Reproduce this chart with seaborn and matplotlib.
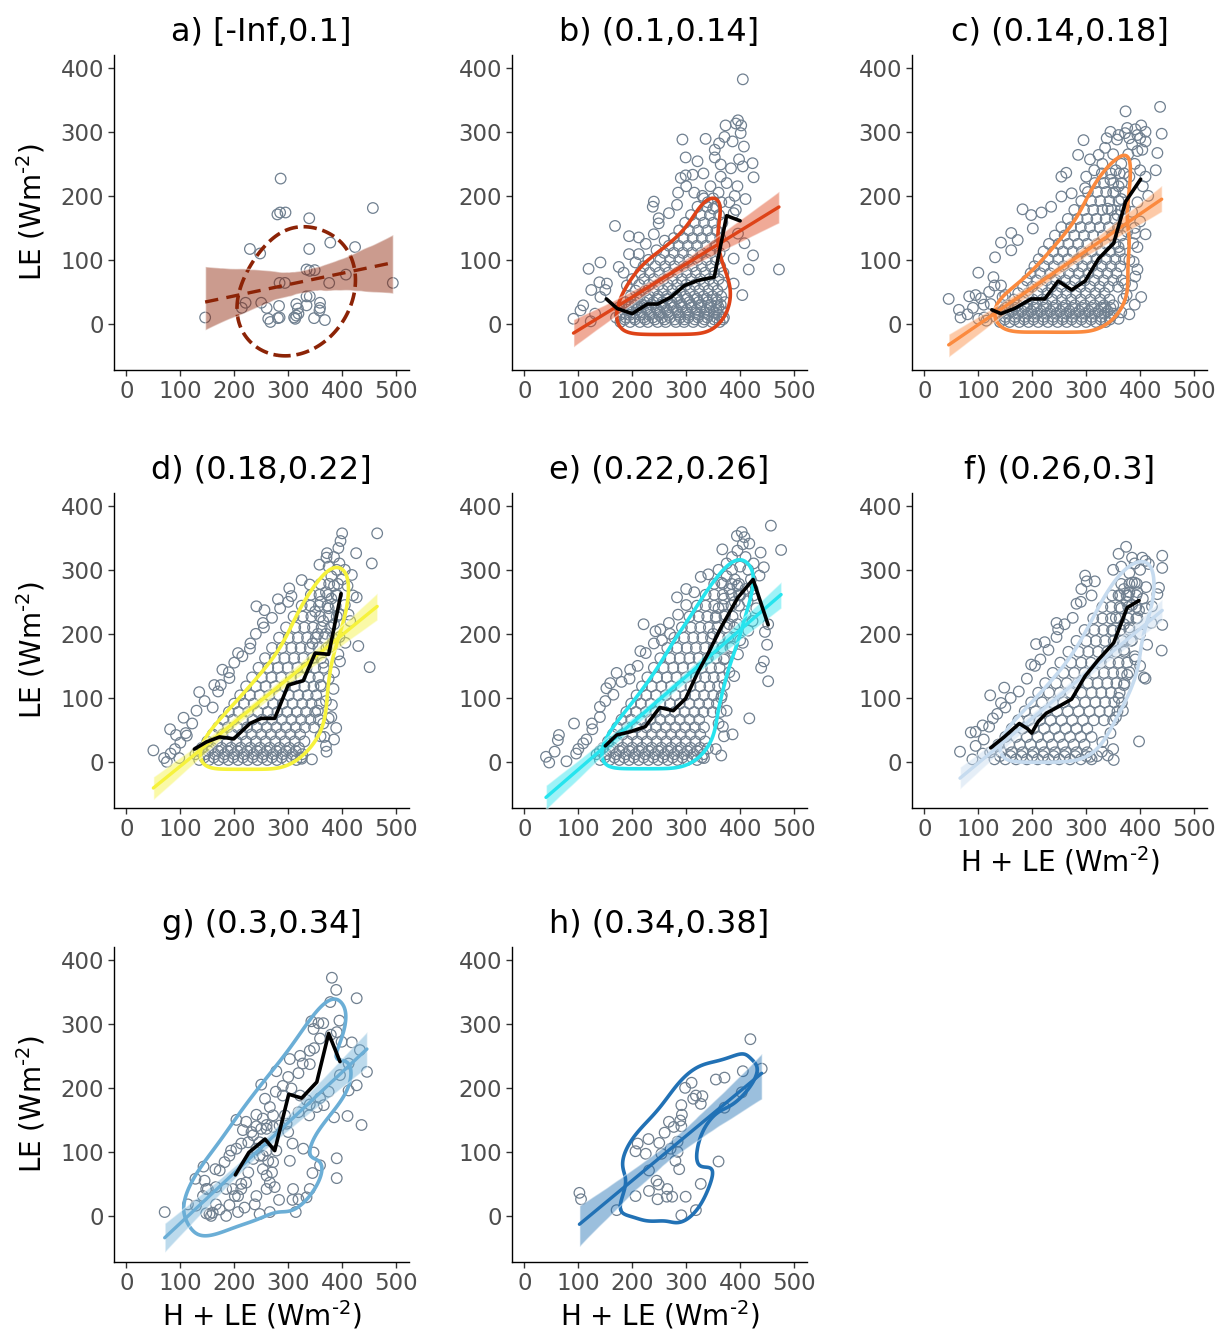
import matplotlib
matplotlib.use("Agg")
import matplotlib.pyplot as plt
import pandas as pd
import seaborn as sns

# panel titles and colours
titles = ["a) [-Inf,0.1]", "b) (0.1,0.14]", "c) (0.14,0.18]", "d) (0.18,0.22]",
          "e) (0.22,0.26]", "f) (0.26,0.3]", "g) (0.3,0.34]", "h) (0.34,0.38]"]
colors = ["#8c2306", "#de4318", "#fb8a3e", "#f6f23c",
          "#26e4ee", "#c6dbef", "#6baed6", "#2171b5"]

# scattered points (H+LE, LE)
a_pts = [(146, 10), (229, 117), (248, 110), (286, 227), (280, 171), (285, 174), (295, 174),
         (339, 165), (378, 127), (424, 120), (457, 181), (494, 64), (339, 117), (334, 85),
         (340, 83), (349, 84), (407, 77), (376, 64), (284, 64), (294, 64), (334, 43), (340, 43),
         (221, 33), (214, 25), (250, 33), (260, 25), (283, 28), (315, 31), (318, 24), (334, 29),
         (359, 33), (359, 25), (358, 21), (263, 8), (267, 3), (281, 9), (284, 10), (311, 10),
         (313, 8), (315, 13), (319, 16), (348, 9), (368, 6)]

b_out = [(405, 382), (396, 318), (392, 313), (373, 310), (402, 310), (401, 298), (293, 288),
         (336, 289), (371, 292), (386, 285), (361, 282), (407, 277), (353, 272), (299, 260),
         (353, 260), (364, 249), (398, 257), (405, 246), (423, 251), (425, 229), (383, 243),
         (290, 228), (299, 232), (312, 233), (332, 235), (364, 230), (321, 254), (240, 191),
         (238, 183), (283, 186), (268, 173), (249, 165), (249, 157), (168, 153), (194, 137),
         (212, 135), (194, 109), (212, 109), (206, 96), (141, 96), (119, 86), (175, 89),
         (184, 80), (221, 90), (124, 53), (139, 65), (153, 63), (150, 53), (141, 42), (109, 29),
         (104, 21), (91, 8), (123, 4), (131, 16), (404, 45), (388, 63), (416, 85), (424, 107),
         (472, 85), (388, 102), (396, 141), (408, 126), (392, 178), (388, 173), (330, 200),
         (345, 215), (360, 205), (375, 220), (390, 200), (380, 190), (340, 190), (315, 205),
         (300, 215), (285, 205), (350, 180), (365, 190), (395, 215), (410, 195), (200, 70),
         (215, 80), (230, 100), (245, 115), (260, 130), (190, 60), (225, 125), (240, 140)]
b_rows = [(3, [178, 196, 214, 229, 247, 262, 281, 296, 313, 331, 348, 362]),
          (7, [186, 205, 224, 242, 260, 279, 297, 316, 334, 352, 368]),
          (10, [170, 188, 203, 221, 238, 255, 270, 289, 304, 322, 339, 356, 370]),
          (14, [177, 195, 214, 232, 250, 268, 287, 305, 323, 342, 360]),
          (18, [182, 199, 216, 233, 251, 266, 284, 299, 317, 334, 351, 367]),
          (22, [190, 208, 227, 246, 264, 282, 301, 319, 338, 356]),
          (26, [176, 193, 211, 226, 244, 259, 277, 292, 310, 327, 344, 360]),
          (30, [199, 218, 236, 254, 272, 291, 309, 328, 346, 364]),
          (34, [187, 205, 222, 239, 256, 273, 288, 306, 323, 340, 357, 372]),
          (39, [209, 228, 246, 265, 283, 302, 320, 338, 356]),
          (43, [197, 214, 231, 248, 264, 282, 298, 315, 332, 349, 365]),
          (52, [206, 224, 240, 257, 274, 290, 307, 324, 341, 358]),
          (61, [213, 231, 249, 266, 283, 300, 316, 333, 350, 367]),
          (70, [222, 240, 258, 275, 292, 309, 326, 343, 360]),
          (80, [232, 250, 267, 284, 301, 318, 335, 352, 369]),
          (90, [243, 261, 278, 295, 312, 329, 346, 363]),
          (100, [252, 270, 287, 304, 321, 338, 355]),
          (111, [259, 277, 294, 311, 328, 345, 362]),
          (122, [268, 286, 303, 320, 337, 354, 371]),
          (134, [277, 295, 312, 329, 346, 363]),
          (146, [287, 305, 322, 339, 356]),
          (158, [298, 316, 333, 350, 367]),
          (170, [309, 327, 344, 361]),
          (183, [321, 338, 355]),
          (196, [333, 350])]

c_out = [(45, 39), (64, 22), (67, 10), (83, 43), (100, 80), (95, 45), (128, 73), (131, 104),
         (142, 127), (161, 142), (161, 115), (182, 179), (198, 170), (217, 174), (201, 149),
         (173, 131), (142, 60), (145, 42), (111, 10), (123, 31), (254, 230), (263, 236),
         (285, 264), (295, 287), (307, 257), (323, 264), (338, 290), (335, 275), (357, 288),
         (373, 332), (376, 306), (391, 304), (402, 310), (410, 285), (404, 272), (437, 339),
         (440, 297), (432, 267), (429, 240), (410, 230), (254, 199), (273, 204), (298, 212),
         (235, 183), (376, 144), (391, 141), (388, 97), (391, 74), (402, 42), (390, 30),
         (369, 39), (372, 63), (335, 26), (360, 8), (360, 120), (387, 126), (345, 300),
         (360, 295), (372, 298), (380, 290), (395, 295), (385, 280), (400, 290), (410, 300),
         (395, 270), (378, 265), (350, 265), (330, 250), (315, 240), (300, 230), (390, 250),
         (400, 240), (380, 230), (405, 215), (415, 200), (395, 190), (385, 175), (400, 160),
         (390, 150), (410, 140), (395, 120), (380, 100), (395, 85), (385, 60), (375, 45),
         (365, 18), (380, 15), (80, 15), (90, 25), (100, 8), (110, 30), (120, 50), (130, 60),
         (150, 45), (115, 5), (105, 40), (355, 240), (365, 250), (345, 225), (360, 215),
         (370, 235), (350, 205), (365, 195), (340, 180), (372, 180), (358, 170)]
c_rows = [(3, [140, 158, 176, 193, 211, 229, 247, 264, 282, 300, 318, 336]),
          (7, [149, 167, 185, 202, 220, 238, 256, 273, 291, 309, 327, 344]),
          (11, [132, 150, 168, 186, 203, 221, 239, 257, 274, 292, 310, 328, 345]),
          (16, [138, 156, 174, 192, 209, 227, 245, 263, 280, 298, 316, 334, 351]),
          (20, [145, 163, 181, 198, 216, 234, 252, 269, 287, 305, 323, 340]),
          (25, [150, 168, 186, 203, 221, 239, 257, 274, 292, 310, 328, 345]),
          (29, [155, 173, 191, 208, 226, 244, 262, 279, 297, 315, 333, 350]),
          (38, [166, 184, 201, 219, 237, 255, 272, 290, 308, 326, 343]),
          (48, [174, 192, 210, 228, 246, 263, 281, 299, 317, 334]),
          (58, [183, 200, 218, 236, 254, 271, 289, 307, 325, 342, 359]),
          (68, [190, 208, 226, 244, 261, 279, 297, 315, 332, 350, 366]),
          (79, [197, 215, 233, 251, 268, 286, 304, 322, 339, 356]),
          (90, [204, 222, 240, 258, 276, 293, 311, 329, 346, 363]),
          (101, [212, 230, 248, 266, 284, 301, 319, 337, 354, 370]),
          (113, [221, 239, 257, 275, 292, 310, 328, 345, 362]),
          (125, [231, 249, 267, 285, 302, 320, 337, 354, 370]),
          (138, [242, 260, 278, 296, 313, 331, 348, 365]),
          (151, [254, 272, 290, 307, 325, 342, 359]),
          (164, [266, 284, 302, 319, 336, 353, 369]),
          (178, [278, 296, 313, 330, 347, 364]),
          (192, [291, 309, 326, 343, 360]),
          (206, [303, 320, 337, 354, 370]),
          (220, [316, 333, 350, 366]),
          (235, [329, 346, 362])]

d_out = [(50, 18), (70, 6), (75, 0), (82, 13), (98, 6), (81, 51), (92, 42), (106, 69), (122, 60),
         (112, 41), (135, 109), (163, 120), (170, 110), (178, 144), (191, 131), (207, 170),
         (229, 177), (241, 243), (256, 237), (253, 217), (281, 254), (302, 271), (306, 259),
         (325, 284), (340, 277), (358, 308), (372, 326), (371, 319), (393, 334), (400, 357),
         (397, 345), (426, 326), (465, 357), (455, 310), (418, 292), (427, 257), (412, 230),
         (406, 186), (430, 181), (451, 148), (393, 168), (396, 157), (384, 114), (381, 89),
         (375, 68), (389, 53), (371, 16), (344, 4), (325, 5), (367, 39), (380, 290), (390, 300),
         (395, 310), (405, 300), (385, 320), (375, 305), (400, 285), (410, 275), (420, 260),
         (405, 245), (395, 230), (415, 220), (385, 215), (370, 200), (380, 180), (395, 195),
         (365, 155), (375, 130), (385, 140), (360, 120), (370, 95), (355, 80), (365, 60),
         (380, 70), (360, 40), (370, 25), (385, 35), (90, 20), (100, 30), (110, 45), (130, 80),
         (145, 95), (160, 85), (175, 120), (190, 140), (200, 155), (215, 165), (230, 185),
         (240, 200), (255, 210), (270, 225), (285, 240), (300, 250), (360, 250), (370, 265),
         (380, 255), (350, 235), (365, 220), (375, 240), (355, 200), (345, 185), (385, 275),
         (390, 260)]
d_rows = [(3, [135, 153, 171, 189, 207, 225, 243, 261, 279, 297, 315]),
          (7, [144, 162, 180, 198, 216, 234, 252, 270, 288, 306, 324]),
          (12, [128, 146, 164, 182, 200, 218, 236, 254, 272, 290, 308, 326]),
          (17, [134, 152, 170, 188, 206, 224, 242, 260, 278, 296, 314]),
          (22, [140, 158, 176, 194, 212, 230, 248, 266, 284, 302, 320]),
          (32, [150, 168, 186, 204, 222, 240, 258, 276, 294, 312, 330]),
          (43, [160, 178, 196, 214, 232, 250, 268, 286, 304, 322]),
          (54, [170, 188, 206, 224, 242, 260, 278, 296, 314, 331, 348]),
          (66, [180, 198, 216, 234, 252, 270, 288, 306, 324, 341, 357]),
          (78, [190, 208, 226, 244, 262, 280, 298, 316, 333, 350]),
          (91, [200, 218, 236, 254, 272, 290, 308, 326, 343, 359]),
          (104, [211, 229, 247, 265, 283, 301, 319, 336, 352]),
          (118, [222, 240, 258, 276, 294, 312, 330, 347, 362]),
          (132, [233, 251, 269, 287, 305, 323, 340, 356]),
          (147, [245, 263, 281, 299, 317, 334, 350, 366]),
          (162, [257, 275, 293, 311, 328, 345, 361]),
          (178, [270, 288, 306, 323, 340, 356, 371]),
          (194, [283, 301, 318, 335, 351, 367, 382]),
          (210, [296, 313, 330, 346, 362, 378]),
          (227, [310, 327, 343, 359, 375, 390]),
          (244, [325, 341, 357, 373, 388]),
          (261, [342, 358, 374, 390]),
          (278, [360, 376, 392])]

e_out = [(40, 8), (46, -1), (56, 16), (62, 34), (64, 42), (78, 1), (92, 60), (96, 13), (109, 29),
         (126, 51), (140, 86), (152, 115), (159, 123), (171, 139), (196, 144), (215, 173),
         (221, 215), (243, 204), (252, 207), (268, 217), (283, 257), (300, 270), (327, 289),
         (341, 293), (367, 332), (394, 353), (403, 359), (408, 351), (417, 341), (438, 327),
         (457, 369), (476, 331), (444, 304), (436, 291), (423, 270), (414, 251), (423, 220),
         (452, 215), (446, 203), (450, 183), (444, 157), (439, 147), (452, 126), (417, 68),
         (386, 43), (368, 55), (371, 120), (389, 134), (396, 168), (405, 186), (333, 6), (340, 21),
         (360, 300), (375, 310), (385, 320), (395, 330), (405, 340), (410, 320), (400, 305),
         (415, 300), (425, 310), (420, 285), (410, 270), (400, 260), (390, 250), (425, 260),
         (430, 240), (410, 230), (395, 215), (415, 205), (400, 190), (385, 180), (370, 160),
         (380, 140), (365, 100), (375, 80), (360, 60), (370, 40), (355, 20), (365, 10), (100, 20),
         (115, 35), (125, 60), (140, 70), (150, 95), (165, 105), (180, 125), (195, 130),
         (210, 150), (225, 170), (240, 185), (255, 190), (270, 200), (285, 230), (300, 245),
         (315, 265), (365, 280), (375, 290), (385, 300), (380, 270), (370, 255), (390, 285),
         (360, 240), (395, 275), (355, 225), (372, 230), (380, 215), (350, 200)]
e_rows = [(3, [140, 158, 176, 194, 212, 230, 248, 266, 284, 302, 320]),
          (7, [149, 167, 185, 203, 221, 239, 257, 275, 293, 311, 329]),
          (12, [134, 152, 170, 188, 206, 224, 242, 260, 278, 296, 314, 332]),
          (17, [140, 158, 176, 194, 212, 230, 248, 266, 284, 302, 320]),
          (22, [146, 164, 182, 200, 218, 236, 254, 272, 290, 308, 326]),
          (32, [155, 173, 191, 209, 227, 245, 263, 281, 299, 317, 335]),
          (43, [164, 182, 200, 218, 236, 254, 272, 290, 308, 326]),
          (54, [172, 190, 208, 226, 244, 262, 280, 298, 316, 333]),
          (66, [180, 198, 216, 234, 252, 270, 288, 306, 324]),
          (78, [189, 207, 225, 243, 261, 279, 297, 315, 332, 349, 364]),
          (91, [198, 216, 234, 252, 270, 288, 306, 324, 341, 357]),
          (104, [208, 226, 244, 262, 280, 298, 316, 333, 350, 366]),
          (118, [218, 236, 254, 272, 290, 308, 326, 343, 359]),
          (132, [228, 246, 264, 282, 300, 318, 335, 351, 367]),
          (147, [240, 258, 276, 294, 312, 329, 346, 362]),
          (162, [252, 270, 288, 306, 323, 340, 356, 372]),
          (178, [265, 283, 301, 318, 335, 351, 367, 382]),
          (194, [278, 296, 313, 330, 346, 362, 378]),
          (210, [292, 309, 326, 342, 358, 374, 389]),
          (227, [306, 323, 339, 355, 371, 386]),
          (244, [320, 336, 352, 368, 384, 398]),
          (261, [336, 352, 368, 384, 398]),
          (278, [352, 368, 384, 398])]

f_out = [(66, 16), (89, 4), (86, 46), (95, 47), (108, 57), (108, 13), (122, 104), (148, 116),
         (142, 92), (127, 68), (198, 152), (207, 184), (223, 187), (245, 217), (248, 207),
         (282, 247), (298, 291), (301, 282), (316, 282), (291, 270), (360, 325), (374, 336),
         (385, 319), (404, 319), (410, 314), (416, 309), (441, 322), (441, 303), (435, 272),
         (432, 262), (411, 273), (398, 237), (422, 243), (421, 217), (441, 214), (413, 183),
         (440, 174), (407, 132), (410, 130), (391, 160), (376, 136), (366, 92), (368, 80),
         (398, 32), (351, 3), (329, 16), (330, 31), (307, 8), (350, 300), (365, 305), (380, 295),
         (390, 310), (400, 300), (385, 280), (395, 265), (405, 255), (375, 260), (410, 240),
         (395, 225), (380, 210), (400, 200), (385, 190), (370, 175), (390, 165), (400, 150),
         (380, 140), (370, 120), (360, 100), (355, 70), (345, 45), (350, 20), (340, 10), (95, 25),
         (110, 35), (120, 55), (135, 75), (150, 85), (160, 100), (175, 110), (190, 130),
         (205, 150), (215, 160), (230, 175), (245, 195), (260, 215), (275, 225), (290, 250),
         (310, 260), (360, 260), (370, 270), (380, 265), (365, 240), (375, 250), (355, 225),
         (385, 245), (350, 205), (370, 215), (390, 280)]
f_rows = [(4, [130, 150, 170, 190, 210, 230, 250, 270, 290, 310]),
          (9, [140, 160, 180, 200, 220, 240, 260, 280, 300, 320]),
          (15, [122, 142, 162, 182, 202, 222, 242, 262, 282, 302]),
          (27, [137, 157, 177, 197, 217, 237, 257, 277, 297]),
          (39, [150, 170, 190, 210, 230, 250, 270, 290, 310]),
          (52, [162, 182, 202, 222, 242, 262, 282, 302]),
          (65, [174, 194, 214, 234, 254, 274, 294, 314, 333, 350]),
          (79, [186, 206, 226, 246, 266, 286, 306, 325, 343, 358]),
          (93, [198, 218, 238, 258, 278, 298, 317, 335, 352]),
          (108, [211, 231, 251, 271, 291, 310, 328, 346, 362]),
          (123, [224, 244, 264, 284, 303, 321, 339, 356, 371]),
          (139, [238, 258, 278, 297, 315, 333, 350, 366]),
          (155, [252, 272, 291, 309, 327, 344, 360, 376]),
          (172, [267, 286, 304, 322, 339, 355, 371]),
          (189, [282, 300, 318, 335, 351, 367, 383]),
          (206, [297, 315, 332, 348, 364, 380]),
          (224, [313, 330, 346, 362, 378, 393]),
          (242, [330, 346, 362, 378, 393]),
          (260, [348, 363, 378, 393]),
          (278, [365, 380, 394])]

g_pts = [(71, 6), (114, 18), (128, 58), (145, 55), (143, 77), (151, 42), (148, 4), (154, 3),
         (160, 5), (157, 0), (173, 10), (166, 45), (165, 73), (173, 71), (182, 84), (191, 94),
         (194, 102), (204, 105), (213, 113), (204, 150), (222, 147), (216, 134), (232, 131),
         (241, 158), (250, 205), (257, 183), (266, 170), (272, 157), (260, 142), (250, 136),
         (247, 115), (253, 94), (263, 86), (272, 84), (260, 63), (266, 52), (275, 45), (283, 25),
         (266, 6), (247, 3), (238, 18), (219, 13), (207, 6), (191, 17), (197, 42), (213, 50),
         (222, 52), (207, 31), (226, 68), (278, 226), (290, 203), (300, 217), (306, 199),
         (300, 131), (308, 113), (303, 86), (309, 42), (308, 25), (314, 6), (319, 26), (334, 29),
         (340, 42), (345, 67), (359, 79), (347, 99), (328, 105), (339, 157), (353, 170),
         (359, 184), (375, 194), (366, 173), (385, 154), (410, 156), (436, 142), (390, 90),
         (390, 59), (412, 196), (427, 204), (446, 225), (396, 220), (395, 305), (381, 372),
         (389, 353), (427, 340), (378, 334), (343, 304), (356, 301), (365, 301), (347, 292),
         (359, 277), (379, 283), (390, 287), (399, 272), (418, 271), (433, 259), (412, 238),
         (340, 258), (348, 262), (322, 250), (327, 238), (340, 237), (303, 245), (319, 223),
         (277, 194), (290, 188), (322, 188), (334, 181), (340, 174), (319, 162), (294, 157),
         (253, 152), (241, 140), (260, 136), (272, 139), (284, 141), (297, 144), (235, 126),
         (226, 115), (241, 105), (260, 102), (278, 102), (247, 94), (235, 89), (185, 42),
         (213, 42), (201, 31), (241, 31), (260, 42), (253, 73), (270, 68), (142, 31), (148, 42),
         (129, 16), (185, 0), (166, 18)]

h_pts = [(102, 36), (105, 26), (171, 9), (206, 31), (206, 101), (210, 113), (225, 97), (230, 120),
         (231, 71), (231, 39), (245, 55), (249, 49), (247, 26), (250, 114), (254, 97), (260, 130),
         (265, 42), (264, 30), (274, 30), (268, 147), (271, 105), (277, 139), (284, 116),
         (287, 73), (280, 86), (284, 100), (289, 149), (292, 158), (291, 173), (291, 140),
         (299, 30), (291, 1), (298, 200), (310, 208), (313, 183), (318, 188), (327, 175),
         (330, 187), (327, 50), (318, 9), (355, 213), (371, 216), (360, 85), (371, 169),
         (405, 226), (403, 193), (419, 276), (440, 230)]

# binned means (black lines)
b_mean_x = [152, 172, 200, 228, 247, 272, 297, 322, 352, 375, 400]
b_mean_y = [39, 24, 16, 31, 31, 42, 60, 68, 73, 169, 161]
c_mean_x = [125, 142, 167, 198, 223, 248, 273, 298, 323, 351, 373, 401]
c_mean_y = [22, 16, 24, 39, 39, 67, 53, 67, 102, 126, 191, 226]
d_mean_x = [126, 148, 173, 199, 229, 250, 275, 300, 328, 350, 375, 398]
d_mean_y = [20, 31, 39, 36, 60, 68, 68, 120, 127, 170, 168, 263]
e_mean_x = [150, 171, 196, 224, 251, 276, 299, 321, 341, 364, 396, 424, 452]
e_mean_y = [25, 42, 47, 55, 85, 80, 99, 139, 170, 209, 257, 285, 214]
f_mean_x = [123, 148, 176, 191, 199, 211, 226, 248, 273, 298, 323, 351, 376, 398]
f_mean_y = [22, 39, 60, 52, 45, 63, 76, 86, 98, 134, 160, 186, 241, 252]
g_mean_x = [202, 227, 257, 275, 301, 325, 353, 375, 396]
g_mean_y = [64, 99, 120, 102, 190, 184, 209, 285, 241]

# contour level (iso-proportion) and kde bandwidth per panel
kde_levels = [0.5, 0.42, 0.42, 0.42, 0.42, 0.42, 0.25, 0.25]
kde_bw = [2.0, 0.95, 0.95, 0.95, 0.95, 0.95, 0.95, 0.85]


def make_df(points=(), rows=()):
    hle = [p[0] for p in points]
    le = [p[1] for p in points]
    for y, xs in rows:
        hle += xs
        le += [y] * len(xs)
    return pd.DataFrame({"hle": hle, "le": le})


frames = [make_df(a_pts), make_df(b_out, b_rows), make_df(c_out, c_rows),
          make_df(d_out, d_rows), make_df(e_out, e_rows), make_df(f_out, f_rows),
          make_df(g_pts), make_df(h_pts)]
means = [None, (b_mean_x, b_mean_y), (c_mean_x, c_mean_y), (d_mean_x, d_mean_y),
         (e_mean_x, e_mean_y), (f_mean_x, f_mean_y), (g_mean_x, g_mean_y), None]

sns.set_style("ticks")
plt.rcParams["font.family"] = ["DejaVu Sans"]

fig = plt.figure(figsize=(12.26, 13.38), dpi=100)
W, H = 1226, 1338
lefts = [114, 512, 912]
tops = [55, 493, 947]
ylab = r"LE (Wm$^{\text{-2}}$)"
xlab = r"H + LE (Wm$^{\text{-2}}$)"

for i, df in enumerate(frames):
    r, c = divmod(i, 3)
    ax = fig.add_axes([lefts[c] / W, 1 - (tops[r] + 315) / H, 295 / W, 315 / H])
    col = colors[i]
    dashed = i == 0

    # points
    sns.scatterplot(data=df, x="hle", y="le", ax=ax, s=58, facecolor="none",
                    edgecolor="#708090", linewidth=0.9, zorder=1)
    # density contour
    sns.kdeplot(data=df, x="hle", y="le", ax=ax, levels=[kde_levels[i]],
                bw_adjust=kde_bw[i], color=col, linewidths=2.6,
                linestyles="dashed" if dashed else "solid", zorder=2)
    # linear fit with CI
    n_before = len(ax.collections)
    sns.regplot(data=df, x="hle", y="le", ax=ax, scatter=False, ci=95, color=col,
                seed=1, n_boot=500,
                line_kws=dict(lw=2.4, ls=(0, (4, 2.5)) if dashed else "-", zorder=4))
    for coll in ax.collections[n_before:]:
        coll.set_alpha(0.45)
        coll.set_zorder(3)
    # binned means
    if means[i] is not None:
        ax.plot(means[i][0], means[i][1], color="black", lw=2.6, zorder=5)

    ax.set_xlim(-23, 524)
    ax.set_ylim(-72, 420)
    ax.set_xticks(range(0, 501, 100))
    ax.set_yticks(range(0, 401, 100))
    ax.tick_params(labelsize=16.5, labelcolor="#4d4d4d", color="#333333",
                   length=4, width=1, pad=3)
    sns.despine(ax=ax)
    for sp in ["left", "bottom"]:
        ax.spines[sp].set_color("black")
        ax.spines[sp].set_linewidth(1)
    ax.set_title(titles[i], fontsize=23, pad=10, color="black")
    ax.set_xlabel(xlab if i in (5, 6, 7) else "", fontsize=20, color="black")
    ax.set_ylabel(ylab if c == 0 else "", fontsize=20, color="black")
    ax.yaxis.set_label_coords(-0.225, 0.5)
    ax.xaxis.set_label_coords(0.5, -0.115)

fig.savefig("out.png", dpi=100)
